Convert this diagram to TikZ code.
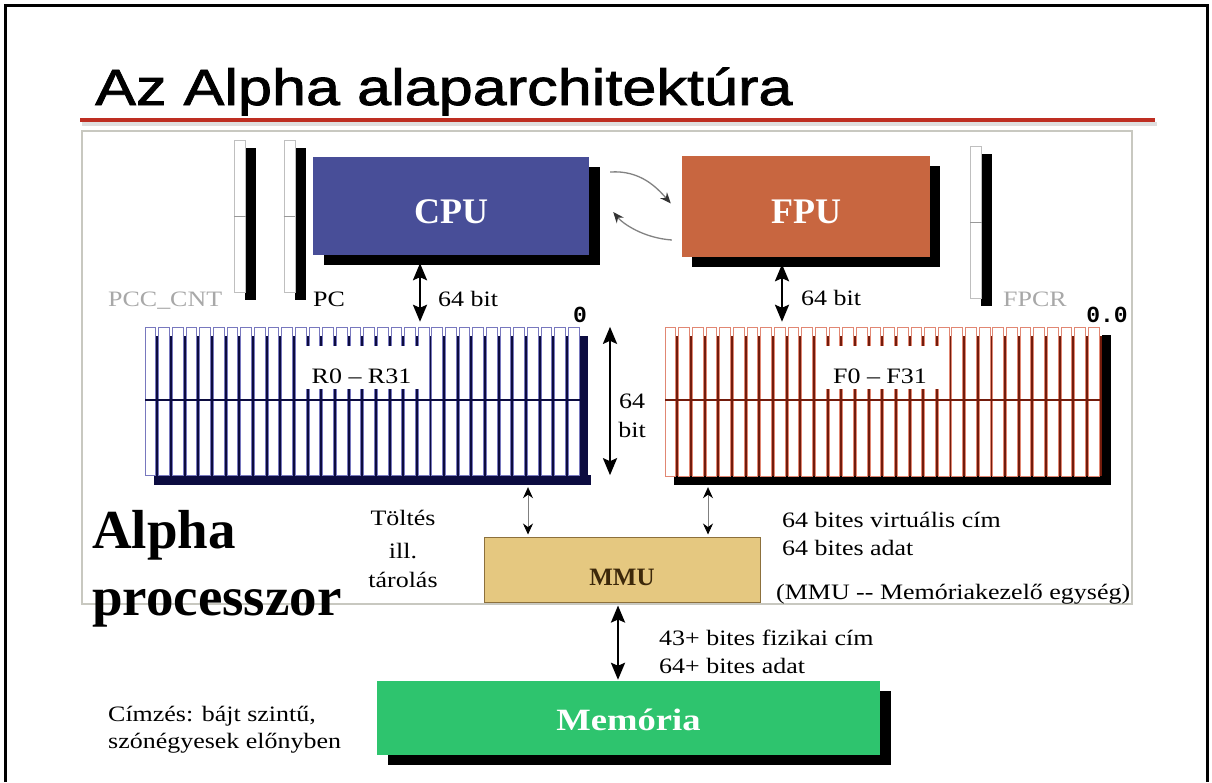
\documentclass[tikz,border=0pt]{standalone}
\usepackage{fontspec}
\setmainfont{Liberation Serif}
\newfontfamily\lbl[FakeStretch=1.18]{Liberation Serif}
\newfontfamily\ttlfont[FakeStretch=1.2,FakeBold=1.6]{Liberation Sans}
\newfontfamily\monofnt{Liberation Mono}
\usetikzlibrary{arrows.meta,shadows}
\definecolor{cpublue}{RGB}{72,78,152}
\definecolor{fpuorange}{RGB}{200,102,64}
\definecolor{mmutan}{RGB}{229,200,128}
\definecolor{mmuborder}{RGB}{140,112,60}
\definecolor{memgreen}{RGB}{46,196,110}
\definecolor{redline}{RGB}{190,46,34}
\definecolor{framegray}{RGB}{200,200,192}
\definecolor{rcell}{RGB}{120,120,190}
\definecolor{rdark}{RGB}{12,12,64}
\definecolor{fcell}{RGB}{225,135,115}
\definecolor{fdark}{RGB}{115,28,12}
\definecolor{labgray}{RGB}{168,168,168}
\definecolor{curvegray}{RGB}{130,130,130}
\definecolor{mmutext}{RGB}{60,40,10}
\begin{document}
\begin{tikzpicture}[x=1pt,y=-1pt,
  lab/.style={font=\lbl\fontsize{22}{26}\selectfont, inner sep=0pt, anchor=base west},
  graylab/.style={lab, text=labgray},
  unit/.style={inner sep=0pt, font=\bfseries\fontsize{36}{40}\selectfont, text=white, text height=40pt, text depth=6pt},
  blackshadow/.style={drop shadow={shadow xshift=#1, shadow yshift=-9.5pt, fill=black, opacity=1}},
  dbl/.style={line width=2.6pt, arrows={Stealth[length=17pt,width=14pt,inset=3pt]-Stealth[length=17pt,width=14pt,inset=3pt]}},
  sdbl/.style={draw=gray, line width=0.8pt, arrows={Stealth[length=11pt,width=10pt,color=black]-Stealth[length=11pt,width=10pt,color=black]}},
  curv/.style={draw=curvegray, line width=1.3pt, arrows={-Stealth[length=11pt,width=9pt,color=black!80]}},
  regbar/.style={draw=gray!50, line width=0.6pt, fill=white, inner sep=0pt, minimum width=11pt, minimum height=152pt,
     drop shadow={shadow xshift=10.5pt, shadow yshift=-7.5pt, fill=black, opacity=1}},
  bignum/.style={font=\monofnt\bfseries\fontsize{23}{26}\selectfont, inner sep=0pt, anchor=base}
]
\useasboundingbox (0,0) rectangle (1212,782);
\fill[white] (0,0) rectangle (1212,782);
% outer frame
\draw[line width=3pt] (5,782) -- (5,5) -- (1207,5) -- (1207,782);
% title
\node[font=\ttlfont\fontsize{51}{60}\selectfont, anchor=base west, inner sep=0pt] (title) at (95,105) {Az Alpha alaparchitektúra};
\draw[line width=4pt, gray!25] (82,124) -- (1157,124);
\draw[line width=3.5pt, redline] (80,120) -- (1155,120);
% inner frame
\draw[framegray, line width=2.5pt] (82,131) rectangle (1132,604);

% special registers
\node[regbar] (pcc) at (240,216) {};
\draw[gray!80] (pcc.west) -- (pcc.east);
\node[regbar] (pc) at (289.5,216) {};
\draw[gray!80] (pc.west) -- (pc.east);
\node[regbar] (fpcr) at (976,222.5) {};
\draw[gray!80] (fpcr.west) -- (fpcr.east);
\node[graylab] (lpcc) at (108,306) {PCC\_CNT};
\node[lab] (lpc) at (313,306) {PC};
\node[graylab] (lfpcr) at (1003,306) {FPCR};

% CPU and FPU
\node[unit, fill=cpublue, minimum width=276pt, minimum height=98pt, blackshadow=11pt] (cpu) at (451,206) {CPU};
\node[unit, fill=fpuorange, minimum width=248pt, minimum height=101pt, blackshadow=9.5pt] (fpu) at (806,206.5) {FPU};
\draw[curv] ([xshift=21pt,yshift=34pt]cpu.east) .. controls +(30,-2) and +(-14,-16) .. ([xshift=-11pt,yshift=3pt]fpu.west);
\draw[curv] ([xshift=-10pt,yshift=-33.5pt]fpu.west) .. controls +(-28,-2) and +(10,12) .. ([xshift=24pt,yshift=-6pt]cpu.east);

% integer register file
\node[inner sep=0pt, minimum width=437pt, minimum height=148pt] (rfile) at (363.5,401) {};
\foreach \i in {0,...,31}{
  \pgfmathsetmacro\xa{145+13.656*\i}
  \fill[rdark] (\xa+8.5,336) rectangle ++(10.7,149);
}
\fill[rdark] (153.5,475) rectangle (590.5,485);
\foreach \i in {0,...,31}{
  \pgfmathsetmacro\xa{145+13.656*\i}
  \filldraw[fill=white, draw=rcell, line width=0.6pt] (\xa,327) rectangle ++(10.7,148);
}
\draw[rdark, line width=1.6pt] (145,400) -- (582,400);
\fill[white] (303,346) rectangle (420,389);
\node[lab, anchor=base] (rlab) at (361.5,383) {R0 – R31};

% float register file
\node[inner sep=0pt, minimum width=437pt, minimum height=149pt] (ffile) at (883.5,401.5) {};
\foreach \i in {0,...,31}{
  \pgfmathsetmacro\xa{665+13.656*\i}
  \fill[fdark] (\xa+8.5,336) rectangle ++(10.7,149);
}
\fill[black] (673.5,476) rectangle (1110.5,485);
\fill[black] (1102,335) rectangle (1111,485);
\foreach \i in {0,...,31}{
  \pgfmathsetmacro\xa{665+13.656*\i}
  \filldraw[fill=white, draw=fcell, line width=0.6pt] (\xa,327) rectangle ++(10.7,149);
}
\draw[fdark, line width=1.6pt] (665,400) -- (1102,400);
\fill[white] (823,346) rectangle (939,389);
\node[lab, anchor=base] (flab) at (880,383) {F0 – F31};

\node[bignum] (zero) at (580,322) {0};
\node[bignum] (zerozero) at (1107,322) {0.0};

% CPU/FPU to registers
\coordinate (xc) at (420,0);
\coordinate (xf) at (782,0);
\coordinate (xw) at (610,0);
\draw[dbl, shorten <=8pt, shorten >=5pt] (cpu.south -| xc) -- (rfile.north -| xc);
\draw[dbl, shorten <=7pt, shorten >=5pt] (fpu.south -| xf) -- (ffile.north -| xf);
\node[lab] (bitc) at (438,306) {64 bit};
\node[lab] (bitf) at (801,305) {64 bit};
\draw[dbl] (rfile.north -| xw) -- (rfile.south -| xw);
\node[lab, anchor=base] (w64) at (632,408) {64};
\node[lab, anchor=base] (wbit) at (632,437) {bit};

% MMU
\node[draw=mmuborder, line width=1pt, fill=mmutan, inner sep=0pt, minimum width=276pt, minimum height=65pt,
      font=\bfseries\fontsize{25}{28}\selectfont, text=mmutext, text height=37pt, text depth=6pt] (mmu) at (622,569.5) {MMU};
\coordinate (xr) at (528,0);
\coordinate (xg) at (708,0);
\draw[sdbl, shorten <=12pt, shorten >=2pt] (rfile.south -| xr) -- (mmu.north -| xr);
\draw[sdbl, shorten <=11pt, shorten >=2pt] (ffile.south -| xg) -- (mmu.north -| xg);
\node[lab, anchor=base] (t1) at (403,525) {Töltés};
\node[lab, anchor=base] (t2) at (403,558) {ill.};
\node[lab, anchor=base] (t3) at (403,587) {tárolás};
\node[lab] (v1) at (782,527) {64 bites virtuális cím};
\node[lab] (v2) at (782,555) {64 bites adat};
\node[lab] (v3) at (776,599) {(MMU -{}- Memóriakezelő egység)};

% Alpha processzor
\node[font=\bfseries\fontsize{55}{60}\selectfont, anchor=base west, inner sep=0pt] (alpha) at (92,548) {Alpha};
\node[font=\bfseries\fontsize{55}{60}\selectfont, anchor=base west, inner sep=0pt] (proc) at (92,615) {processzor};

% memory
\node[inner sep=0pt, fill=memgreen, minimum width=503pt, minimum height=74pt, blackshadow=11pt,
      font=\lbl\bfseries\fontsize{31}{34}\selectfont, text=white, text height=30pt, text depth=6pt] (mem) at (628.5,718) {Memória};
\coordinate (xm) at (618,0);
\draw[dbl, shorten <=3pt, shorten >=1pt] (mmu.south -| xm) -- (mem.north -| xm);
\node[lab] (p1) at (659,645) {43+ bites fizikai cím};
\node[lab] (p2) at (659,673) {64+ bites adat};
\node[lab] (c1) at (108,721) {Címzés: bájt szintű,};
\node[lab] (c2) at (108,748) {szónégyesek előnyben};
\end{tikzpicture}
\end{document}
